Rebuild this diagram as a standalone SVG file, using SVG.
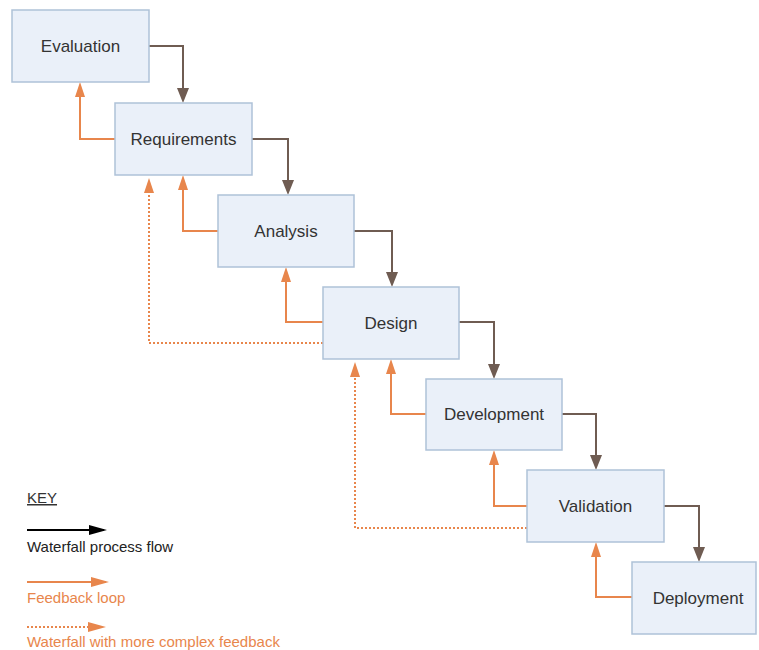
<svg xmlns="http://www.w3.org/2000/svg" width="759" height="650" viewBox="0 0 759 650">
<style>
.box{fill:#eaf0f9;stroke:#aec2d8;stroke-width:1.5}
.lbl{font-family:"Liberation Sans",Arial,sans-serif;font-size:17px;fill:#333;text-anchor:middle;dominant-baseline:central}
.flow{fill:none;stroke:#6f5c52;stroke-width:2}
.fb{fill:none;stroke:#e8864c;stroke-width:2}
.fbd{fill:none;stroke:#e8864c;stroke-width:2;stroke-dasharray:2 2}
.key{font-family:"Liberation Sans",Arial,sans-serif;font-size:15px}
</style>
<defs>
<marker id="mb" markerUnits="userSpaceOnUse" markerWidth="15" markerHeight="13" refX="12" refY="6" orient="auto"><path d="M0,0 L15,6 L0,12 z" fill="#6f5c52"/></marker>
<marker id="mo" markerUnits="userSpaceOnUse" markerWidth="15" markerHeight="11" refX="12" refY="5" orient="auto"><path d="M0,0 L15,5 L0,10 z" fill="#e8864c"/></marker>
<marker id="mk" markerUnits="userSpaceOnUse" markerWidth="18" markerHeight="11" refX="15" refY="5" orient="auto"><path d="M0,0 L18,5 L0,10 z" fill="#000"/></marker>
<marker id="mko" markerUnits="userSpaceOnUse" markerWidth="18" markerHeight="11" refX="15" refY="5" orient="auto"><path d="M0,0 L18,5 L0,10 z" fill="#e8864c"/></marker>
</defs>
<rect width="759" height="650" fill="#fff"/>
<g id="connectors">
<path class="flow" d="M149,46 H183 V100" marker-end="url(#mb)"/>
<path class="flow" d="M252,139 H288 V192" marker-end="url(#mb)"/>
<path class="flow" d="M354,231 H392 V284" marker-end="url(#mb)"/>
<path class="flow" d="M459,322 H494 V376" marker-end="url(#mb)"/>
<path class="flow" d="M562,414 H596 V467" marker-end="url(#mb)"/>
<path class="flow" d="M664,506 H699 V559" marker-end="url(#mb)"/>
<path class="fb" d="M115,139 H80 V85" marker-end="url(#mo)"/>
<path class="fb" d="M218,231 H183 V178" marker-end="url(#mo)"/>
<path class="fb" d="M323,322 H286 V270" marker-end="url(#mo)"/>
<path class="fb" d="M426,414 H391 V362" marker-end="url(#mo)"/>
<path class="fb" d="M527,506 H494 V453" marker-end="url(#mo)"/>
<path class="fb" d="M632,597 H596 V545" marker-end="url(#mo)"/>
<path class="fbd" d="M323,343 H149 V181" marker-end="url(#mo)"/>
<path class="fbd" d="M527,528 H355 V365" marker-end="url(#mo)"/>
</g>
<g id="evaluation"><rect class="box" x="12" y="10" width="137" height="72"/><text class="lbl" x="80.5" y="46">Evaluation</text></g>
<g id="requirements"><rect class="box" x="115" y="103" width="137" height="72"/><text class="lbl" x="183.5" y="139">Requirements</text></g>
<g id="analysis"><rect class="box" x="218" y="195" width="136" height="72"/><text class="lbl" x="286" y="231">Analysis</text></g>
<g id="design"><rect class="box" x="323" y="287" width="136" height="72"/><text class="lbl" x="391" y="323">Design</text></g>
<g id="development"><rect class="box" x="426" y="379" width="136" height="71"/><text class="lbl" x="494" y="414">Development</text></g>
<g id="validation"><rect class="box" x="527" y="470" width="137" height="72"/><text class="lbl" x="595.5" y="506">Validation</text></g>
<g id="deployment"><rect class="box" x="632" y="562" width="124" height="72"/><text class="lbl" x="698" y="598">Deployment</text></g>
<g id="key">
<text class="key" x="27" y="503" fill="#333" text-decoration="underline">KEY</text>
<path d="M27,530 H104" stroke="#000" stroke-width="2" fill="none" marker-end="url(#mk)"/>
<text class="key" x="27" y="552" fill="#222">Waterfall process flow</text>
<path d="M27,582 H106" stroke="#e8864c" stroke-width="2" fill="none" marker-end="url(#mko)"/>
<text class="key" x="27" y="603" fill="#e8864c">Feedback loop</text>
<path d="M27,627 H103" stroke="#e8864c" stroke-width="2" stroke-dasharray="2 2" fill="none" marker-end="url(#mko)"/>
<text class="key" x="27" y="647" fill="#e8864c">Waterfall with more complex feedback</text>
</g>
</svg>
